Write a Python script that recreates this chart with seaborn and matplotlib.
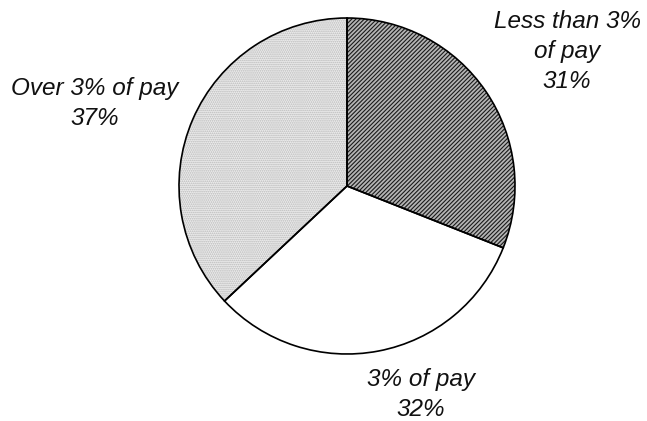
import matplotlib
matplotlib.use("Agg")
import matplotlib.pyplot as plt
import seaborn as sns

# data
labels = ["Less than 3%\nof pay", "3% of pay", "Over 3% of pay"]
shares = [31, 32, 37]

sns.set_theme(style="white")
plt.rcParams['font.family'] = ['Liberation Sans', 'DejaVu Sans']
plt.rcParams['hatch.linewidth'] = 0.8

fig = plt.figure(figsize=(6.47, 4.21), dpi=100)
ax = fig.add_axes([0, 0, 1, 1])

faces = ["#b4b4b4", "white", "#ececec"]
hatches = ["////////", "", "........"]
hatch_cols = ["#1a1a1a", "white", "#b8b8b8"]

# hatched fill first
wedges, _ = ax.pie(shares, startangle=90, counterclock=False, radius=1,
                   colors=faces)
for w, h, hc in zip(wedges, hatches, hatch_cols):
    w.set_hatch(h)
    w.set_edgecolor(hc)
    w.set_linewidth(0)

# outline on top
outline, _ = ax.pie(shares, startangle=90, counterclock=False, radius=1,
                    wedgeprops=dict(fill=False, edgecolor="black", linewidth=1.2))

pos = [(1.31, 0.8), (0.44, -1.24), (-1.5, 0.49)]
for lab, s, (x, y) in zip(labels, shares, pos):
    ax.text(x, y, f"{lab}\n{s}%", ha="center", va="center", fontsize=17.5,
            style="italic", linespacing=1.4, color="#111111")

ax.set_xlim(-347 / 168, 300 / 168)
ax.set_ylim(-235 / 168, 186 / 168)
ax.set_aspect("equal")
ax.axis("off")

fig.savefig("out.png", dpi=100, facecolor="white")
